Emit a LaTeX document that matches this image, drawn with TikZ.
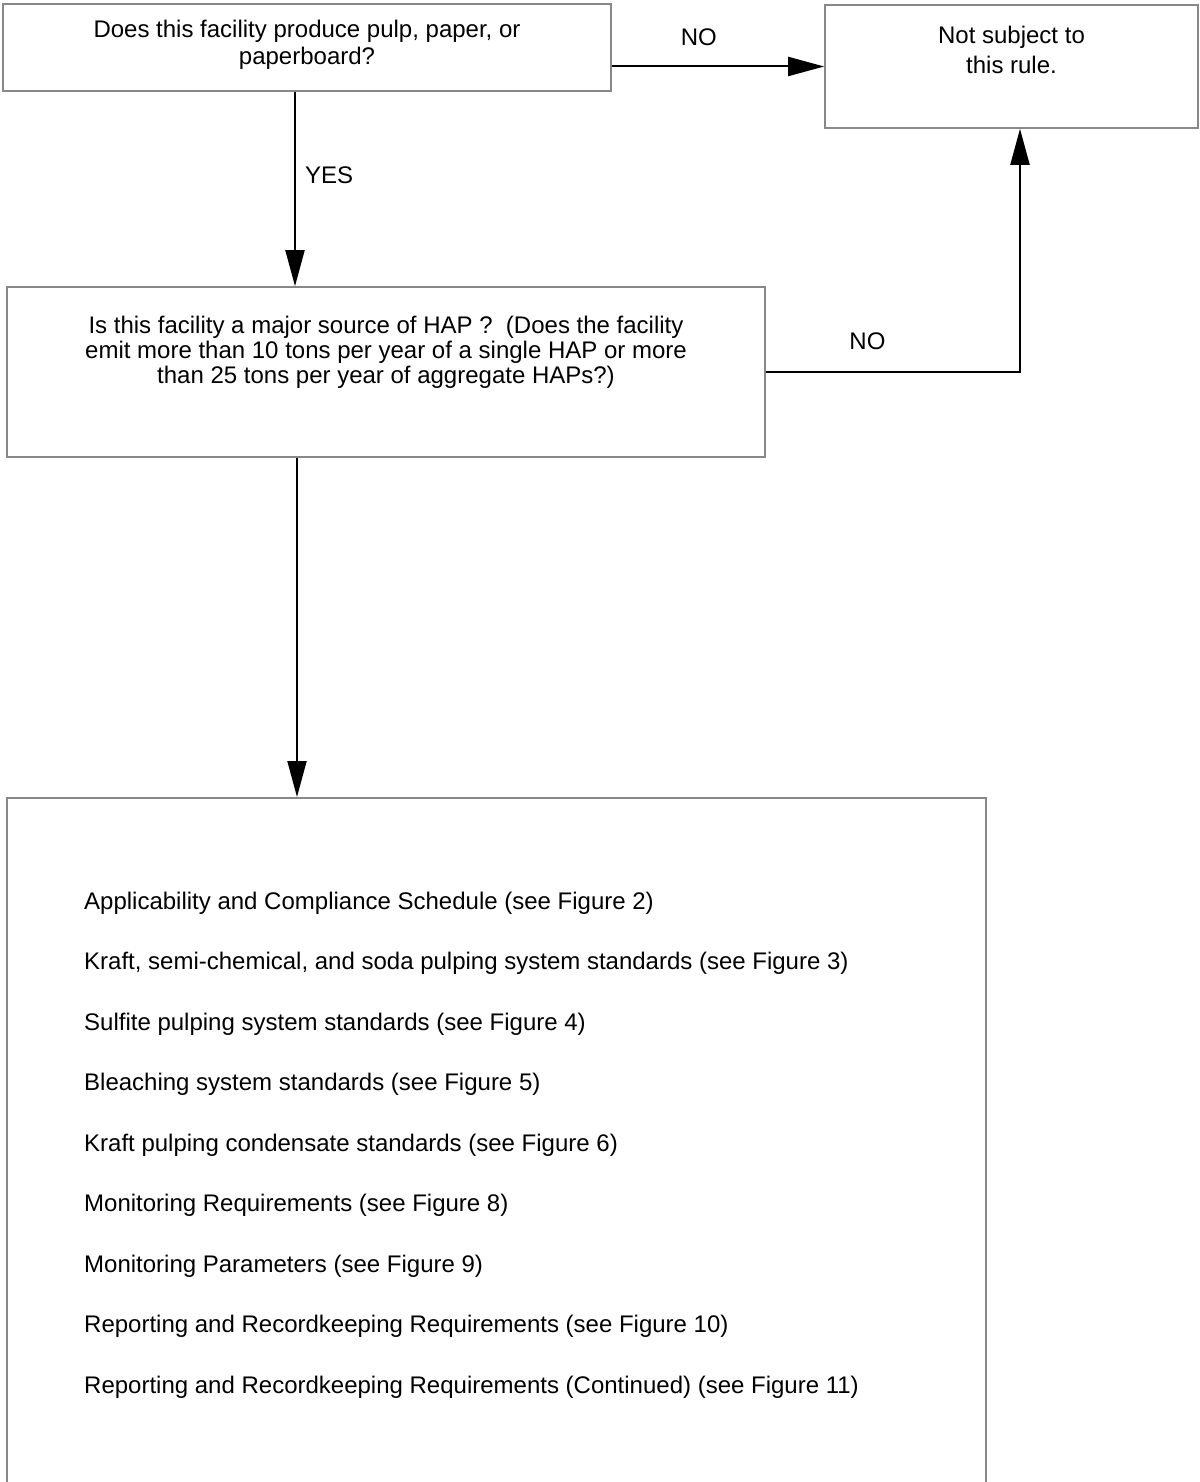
\documentclass[tikz,border=0pt]{standalone}
\usepackage{fontspec}
\setmainfont{Liberation Sans}
\usepackage{tikz}
\usetikzlibrary{
	arrows.meta
}
\definecolor{boxgray}{RGB}{136,136,136}
\tikzset{
	every edge/.append style={
		-{Triangle[length=36pt,width=19pt]},
		line width=2pt
	},
	question/.style={
		draw=boxgray,
		line width=1.6pt,
		align=center,
		inner sep=0pt
	},
	answer/.style={
		inner sep=0pt,
		font=\fontsize{24}{24}\selectfont
	}
}

\begin{document}
\begin{tikzpicture}[x=1pt,y=-1pt]
	\useasboundingbox (0,0) rectangle (1199,1482);
	\draw
		node [question,minimum width=608pt,minimum height=87pt,text depth=10pt,
			font=\fontsize{24}{27}\selectfont]                     (facility) at (307,47.5)   {Does this facility produce pulp, paper, or\\paperboard?}
		node [question,minimum width=373pt,minimum height=123pt,text depth=33pt,
			font=\fontsize{24}{30}\selectfont]                     (notsub)   at (1011.5,66.5) {Not subject to\\this rule.}
		node [question,minimum width=758pt,minimum height=170pt,text depth=44pt,
			font=\fontsize{24}{25}\selectfont]                     (major)    at (386,372)    {Is this facility a major source of HAP ?~~(Does the facility\\emit more than 10 tons per year of a single HAP or more\\than 25 tons per year of aggregate HAPs?)}
		node [question,minimum width=979pt,minimum height=700pt,anchor=north] (rules) at (496.5,797) {}
		node [anchor=north west,align=left,inner sep=0pt,
			font=\fontsize{24}{60.5}\selectfont]                   (list)     at (84,891.5)   {Applicability and Compliance Schedule (see Figure 2)\\
				Kraft, semi-chemical, and soda pulping system standards (see Figure 3)\\
				Sulfite pulping system standards (see Figure 4)\\
				Bleaching system standards (see Figure 5)\\
				Kraft pulping condensate standards (see Figure 6)\\
				Monitoring Requirements (see Figure 8)\\
				Monitoring Parameters (see Figure 9)\\
				Reporting and Recordkeeping Requirements (see Figure 10)\\
				Reporting and Recordkeeping Requirements (Continued) (see Figure 11)}

		(facility.east |- notsub.west)  edge node[answer,above=20pt,pos=0.41] {NO}  (notsub.west)
		([xshift=-12pt]facility.south)  edge node[answer,right=9pt,pos=0.43] {YES} ([xshift=-12pt]facility.south |- major.north)
		(major.east)                    edge[to path={-| (\tikztotarget) \tikztonodes}]
		                                     node[answer,above=21pt,pos=0.2] {NO}  ([xshift=8.5pt]notsub.south)
		([xshift=-89pt]major.south)     edge                                       ([xshift=-89pt]major.south |- rules.north)
	;
\end{tikzpicture}
\end{document}
